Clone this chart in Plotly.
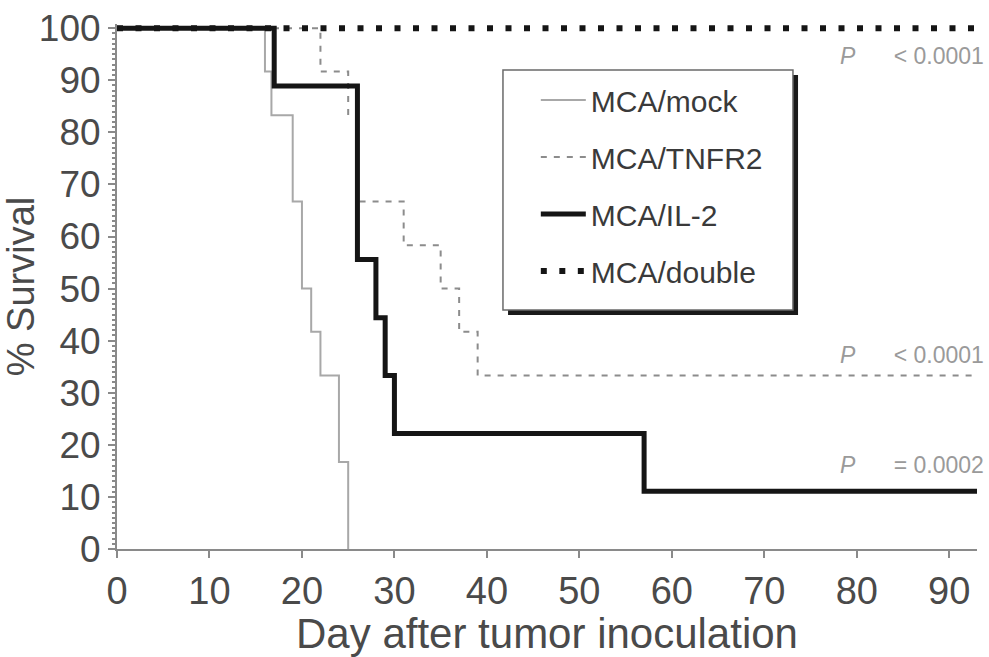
import plotly.graph_objects as go

# ---- data ----
mock_days = [0, 16, 16.7, 19, 20, 21, 22, 24, 25]
mock_surv = [100, 91.7, 83.3, 66.7, 50, 41.7, 33.3, 16.7, 0]

tnfr2_days = [0, 22, 25, 26, 31, 35, 37, 39, 93]
tnfr2_surv = [100, 91.7, 83.3, 66.7, 58.3, 50, 41.7, 33.3, 33.3]

il2_days = [0, 17, 26, 28, 29, 30, 57, 93]
il2_surv = [100, 88.9, 55.6, 44.4, 33.3, 22.2, 11.1, 11.1]

double_days = [0, 93]
double_surv = [100, 100]

series_names = ["MCA/mock", "MCA/TNFR2", "MCA/IL-2", "MCA/double"]

p_labels = ["< 0.0001", "< 0.0001", "= 0.0002"]
p_label_y = [94.6, 37.2, 16.1]

x_ticks = list(range(0, 100, 10))
y_ticks = list(range(0, 101, 10))

FONT = "Liberation Sans, Arial, sans-serif"
TXT = "#4a4a4a"
AX = "#8a8a8a"

fig = go.Figure()

fig.add_trace(go.Scatter(x=mock_days, y=mock_surv, mode="lines", name=series_names[0],
                         line=dict(shape="hv", color="#a8a8a8", width=2),
                         legendgroup="a"))
fig.add_trace(go.Scatter(x=tnfr2_days, y=tnfr2_surv, mode="lines", name=series_names[1],
                         line=dict(shape="hv", color="#8c8c8c", width=2, dash="6px,7px"),
                         legendgroup="b"))
fig.add_trace(go.Scatter(x=il2_days, y=il2_surv, mode="lines", name=series_names[2],
                         line=dict(shape="hv", color="#151515", width=5),
                         legendgroup="c"))
fig.add_trace(go.Scatter(x=double_days, y=double_surv, mode="lines", name=series_names[3],
                         line=dict(shape="hv", color="#151515", width=6, dash="6px,12.5px"),
                         legendgroup="d"))

for lab, yy in zip(p_labels, p_label_y):
    fig.add_annotation(x=1.01, xref="paper", y=yy, yref="y", xanchor="right",
                       yanchor="middle", showarrow=False,
                       text="<i>P</i>&nbsp;&nbsp;&nbsp;&nbsp;&nbsp;&nbsp;" + lab,
                       font=dict(family=FONT, size=23, color="#9a9a9a"))

# legend frame with drop shadow (paper coordinates)
fig.add_shape(type="rect", xref="paper", yref="paper", x0=0.4547, x1=0.7919,
              y0=0.4457, y1=0.9029, fillcolor="#1a1a1a", line=dict(width=0), layer="above")
fig.add_shape(type="rect", xref="paper", yref="paper", x0=0.4488, x1=0.7860,
              y0=0.4552, y1=0.9124, fillcolor="white", line=dict(color="#6a6a6a", width=1.5),
              layer="above")

fig.update_layout(
    width=989, height=657,
    margin=dict(l=117, r=12, t=24, b=108),
    paper_bgcolor="white", plot_bgcolor="white",
    font=dict(family=FONT, color=TXT),
    showlegend=True,
    legend=dict(x=0.487, y=0.905, xanchor="left", yanchor="top",
                bgcolor="rgba(0,0,0,0)", borderwidth=0,
                font=dict(family=FONT, size=30, color="#3a3a3a"),
                tracegroupgap=15, traceorder="grouped", itemwidth=45),
    xaxis=dict(range=[0, 93], tickmode="array", tickvals=x_ticks,
               ticktext=[str(v) for v in x_ticks], automargin=False,
               showgrid=False, zeroline=False, showline=True, linecolor=AX,
               linewidth=2, ticks="outside", ticklen=7, tickwidth=2, tickcolor=AX,
               tickfont=dict(family=FONT, size=38, color=TXT),
               title=dict(text="Day after tumor inoculation",
                          font=dict(family=FONT, size=42, color=TXT), standoff=0)),
    yaxis=dict(range=[0, 100.8], tickmode="array", tickvals=y_ticks,
               ticktext=[str(v) for v in y_ticks], automargin=False,
               showgrid=False, zeroline=False, showline=True, linecolor=AX,
               linewidth=2, ticks="outside", ticklen=7, tickwidth=2, tickcolor=AX,
               minor=dict(ticks="outside", dtick=1, ticklen=3, tickcolor=AX, tickwidth=1.5),
               tickfont=dict(family=FONT, size=37, color=TXT),
               title=dict(text="% Survival",
                          font=dict(family=FONT, size=38, color=TXT), standoff=6)),
)

fig.write_html("out.html")
